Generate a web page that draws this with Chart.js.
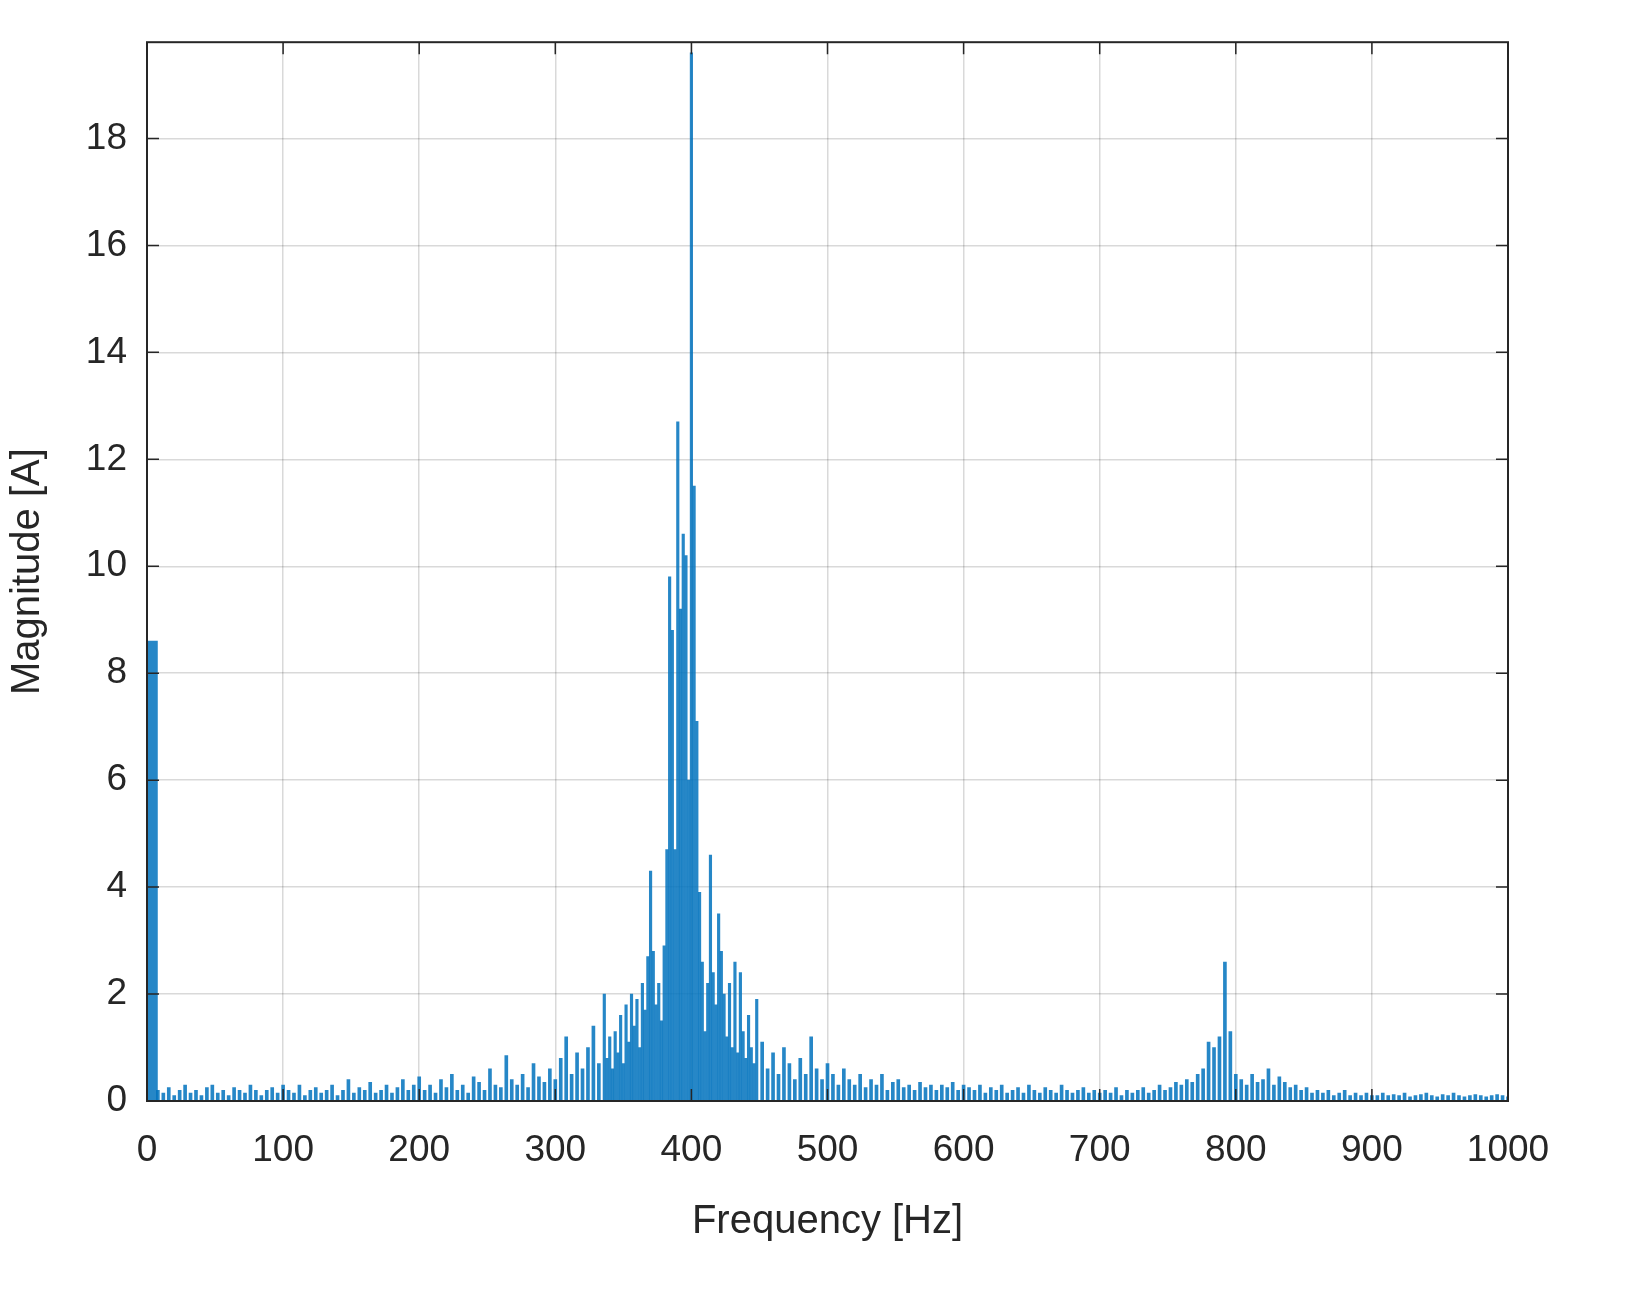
<!DOCTYPE html>
<html>
<head>
<meta charset="utf-8">
<script src="https://cdn.jsdelivr.net/npm/chart.js@4.4.1/dist/chart.umd.min.js"></script>
<style>
  html, body { margin: 0; padding: 0; background: #fff; }
  #wrap { width: 1640px; height: 1310px; }
</style>
</head>
<body>
<div id="wrap"><canvas id="spec" width="1640" height="1310"></canvas></div>
<script>
// DC component
const dcFreqs = [4];
const dcMags = [8.6];

// background spectrum, 4 Hz bins: 8..332 Hz
const lowStart = 8, lowStep = 4;
const lowMags = [
  0.2,0.15,0.25,0.1,0.2,0.3,0.15,0.2,0.1,0.25,0.3,0.15,0.2,0.1,0.25,0.2,0.15,0.3,0.2,0.1,0.2,0.25,0.15,0.3,
  0.2,0.15,0.3,0.1,0.2,0.25,0.15,0.2,0.3,0.1,0.2,0.4,0.15,0.25,0.2,0.35,0.15,0.2,0.3,0.15,0.25,0.4,0.2,0.3,0.45,
  0.2,0.3,0.15,0.4,0.25,0.5,0.2,0.3,0.15,0.45,0.35,0.2,0.6,0.3,0.25,0.85,0.4,0.3,0.5,0.25,0.7,0.45,0.35,0.6,0.4,
  0.8,1.2,0.5,0.9,0.6,1.0,1.4,0.7
];

// main cluster around 400 Hz, 2 Hz bins: 336..448 Hz
const midStart = 336, midStep = 2;
const midMags = [
  2.0,0.8,1.2,0.6,1.3,0.9,1.6,0.7,1.8,1.1,2.0,1.4,1.9,1.0,2.2,1.7,2.7,4.3,2.8,1.8,
  2.2,1.5,2.9,4.7,9.8,8.8,4.7,12.7,9.2,10.6,10.2,6.0,19.6,11.5,7.1,3.9,2.6,1.3,2.2,4.6,
  2.4,1.8,3.5,2.8,2.0,1.2,2.2,1.0,2.6,0.9,2.4,1.3,0.8,1.6,1.0,0.7,1.9
];

// upper spectrum, 4 Hz bins: 452..1000 Hz
const highStart = 452, highStep = 4;
const highMags = [
  1.1,0.6,0.9,0.5,1.0,0.7,0.4,0.8,0.5,1.2,0.6,0.4,0.7,
  0.5,0.3,0.6,0.4,0.3,0.5,0.25,0.4,0.3,0.5,0.2,0.35,0.4,0.25,0.3,0.2,0.35,0.25,0.3,0.2,0.3,0.25,0.35,0.2,0.3,
  0.25,0.2,0.3,0.15,0.25,0.2,0.3,0.15,0.2,0.25,0.15,0.3,0.2,0.15,0.25,0.2,0.15,0.3,0.2,0.15,0.2,0.25,0.15,0.2,0.15,
  0.2,0.15,0.25,0.1,0.2,0.15,0.2,0.25,0.15,0.2,0.3,0.2,0.25,0.35,0.3,0.4,0.35,0.5,0.6,1.1,1.0,1.2,2.6,1.3,0.5,
  0.4,0.3,0.5,0.35,0.4,0.6,0.3,0.45,0.35,0.25,0.3,0.2,0.25,0.15,0.2,0.15,0.2,0.1,0.15,0.2,0.1,0.15,0.1,0.15,0.1,
  0.1,0.15,0.1,0.12,0.1,0.15,0.08,0.1,0.12,0.15,0.1,0.08,0.12,0.1,0.15,0.1,0.08,0.1,0.12,0.1,0.08,0.1,0.12,0.1,0.08
];

const xTicks = [0,100,200,300,400,500,600,700,800,900,1000];
const yTicks = [0,2,4,6,8,10,12,14,16,18];

function toPoints(start, step, mags) {
  return mags.map((m, i) => ({ x: start + i * step, y: m }));
}

const BLUE = 'rgba(0,114,189,0.85)';
const FONT = 'Liberation Sans, Arial, sans-serif';

const boxPlugin = {
  id: 'box',
  afterDraw(chart) {
    const { ctx, chartArea: a, scales } = chart;
    ctx.save();
    ctx.strokeStyle = '#262626';
    ctx.lineWidth = 2;
    ctx.strokeRect(a.left, a.top, a.right - a.left, a.bottom - a.top);
    ctx.lineWidth = 1.5;
    xTicks.forEach(t => {
      const x = scales.x.getPixelForValue(t);
      ctx.beginPath(); ctx.moveTo(x, a.bottom); ctx.lineTo(x, a.bottom - 12);
      ctx.moveTo(x, a.top); ctx.lineTo(x, a.top + 12); ctx.stroke();
    });
    yTicks.forEach(t => {
      const y = scales.y.getPixelForValue(t);
      ctx.beginPath(); ctx.moveTo(a.left, y); ctx.lineTo(a.left + 12, y);
      ctx.moveTo(a.right, y); ctx.lineTo(a.right - 12, y); ctx.stroke();
    });
    ctx.restore();
  }
};

new Chart(document.getElementById('spec'), {
  type: 'bar',
  data: {
    datasets: [
      { data: dcFreqs.map((f, i) => ({ x: f, y: dcMags[i] })), backgroundColor: BLUE, barThickness: 10, grouped: false },
      { data: toPoints(lowStart, lowStep, lowMags), backgroundColor: BLUE, barThickness: 3, grouped: false },
      { data: toPoints(midStart, midStep, midMags), backgroundColor: BLUE, barThickness: 2.5, grouped: false },
      { data: toPoints(highStart, highStep, highMags), backgroundColor: BLUE, barThickness: 3, grouped: false }
    ]
  },
  options: {
    responsive: false,
    animation: false,
    layout: { padding: { top: 28, right: 132, left: 0, bottom: 60 } },
    plugins: { legend: { display: false }, tooltip: { enabled: false } },
    scales: {
      x: {
        type: 'linear', min: 0, max: 1000, offset: false,
        afterBuildTicks: s => { s.ticks = xTicks.map(v => ({ value: v })); },
        afterFit: s => { s.height = 149; },
        grid: { color: 'rgba(0,0,0,0.15)', lineWidth: 1.5, drawTicks: false, offset: false },
        border: { display: false },
        ticks: { color: '#262626', font: { family: FONT, size: 37 }, padding: 28, callback: v => String(v) },
        title: { display: true, text: 'Frequency [Hz]', color: '#262626', font: { family: FONT, size: 40 }, padding: { top: 10 } }
      },
      y: {
        min: 0, max: 19.8,
        afterBuildTicks: s => { s.ticks = yTicks.map(v => ({ value: v })); },
        afterFit: s => { s.width = 147; },
        grid: { color: 'rgba(0,0,0,0.15)', lineWidth: 1.5, drawTicks: false },
        border: { display: false },
        ticks: { color: '#262626', font: { family: FONT, size: 37 }, padding: 20 },
        title: { display: true, text: 'Magnitude [A]', color: '#262626', font: { family: FONT, size: 40 }, padding: { bottom: 4 } }
      }
    }
  },
  plugins: [boxPlugin]
});
</script>
</body>
</html>
